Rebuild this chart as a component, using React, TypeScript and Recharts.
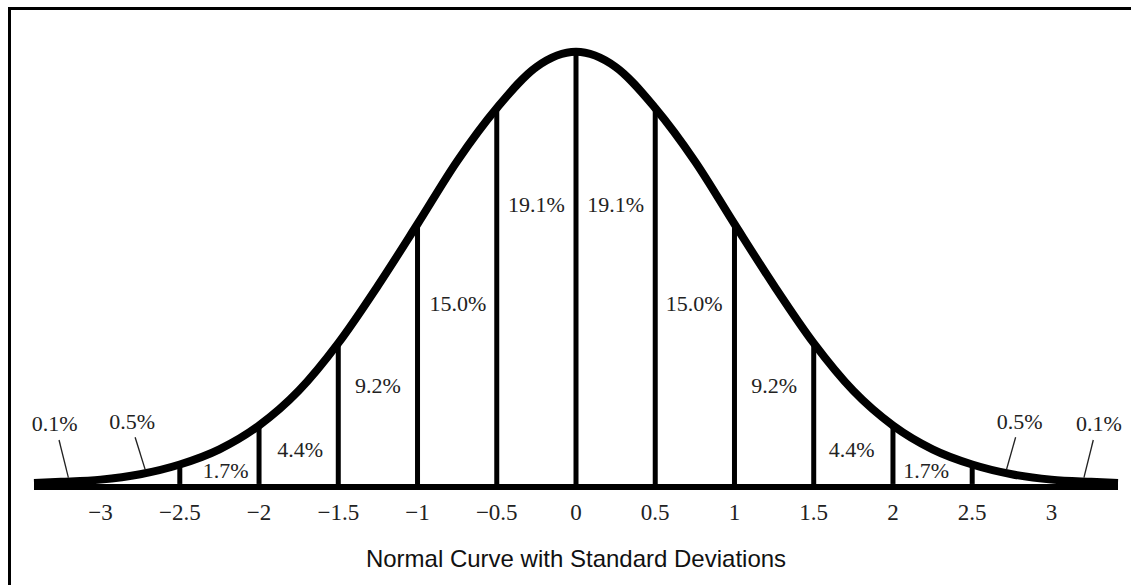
import { ComposedChart, Line, XAxis, YAxis, ReferenceLine, ReferenceDot } from 'recharts'

// curve heights (density units)
const curveX = [-3.42, -3.25, -3, -2.75, -2.5, -2.25, -2, -1.75, -1.5, -1.25, -1, -0.75, -0.5, -0.25, 0,
  0.25, 0.5, 0.75, 1, 1.25, 1.5, 1.75, 2, 2.25, 2.5, 2.75, 3, 3.25, 3.42]
const curveY = [0.001, 0.002, 0.004, 0.009, 0.018, 0.032, 0.054, 0.086, 0.13, 0.183, 0.24, 0.298, 0.347, 0.385, 0.399,
  0.385, 0.347, 0.298, 0.24, 0.183, 0.13, 0.086, 0.054, 0.032, 0.018, 0.009, 0.004, 0.002, 0.001]

const tickValues = [-3, -2.5, -2, -1.5, -1, -0.5, 0, 0.5, 1, 1.5, 2, 2.5, 3]
const dividerX = [-2.5, -2, -1.5, -1, -0.5, 0, 0.5, 1, 1.5, 2, 2.5]

const bandLabels = ['0.1%', '0.5%', '1.7%', '4.4%', '9.2%', '15.0%', '19.1%', '19.1%', '15.0%', '9.2%', '4.4%', '1.7%', '0.5%', '0.1%']
const bandLabelX = [-3.29, -2.8, -2.21, -1.74, -1.25, -0.745, -0.25, 0.25, 0.745, 1.25, 1.74, 2.21, 2.8, 3.3]
const bandLabelY = [0.056, 0.058, 0.013, 0.032, 0.091, 0.167, 0.258, 0.258, 0.167, 0.091, 0.032, 0.013, 0.058, 0.056]

// leader lines for the two tiny tail bands: [x top, y top, x bottom, y bottom]
const leaders = [
  [-3.262, 0.0406, -3.203, 0.0058],
  [-2.782, 0.0431, -2.719, 0.0136],
  [2.774, 0.0431, 2.717, 0.0136],
  [3.264, 0.0406, 3.205, 0.0058],
]

const title = 'Normal Curve with Standard Deviations'

const data = curveX.map((x, i) => ({ x, y: curveY[i] }))
const heightAt = (x: number) => curveY[curveX.indexOf(x)]

const SERIF = '"Liberation Serif", "Times New Roman", serif'

const Tick = (props: any) => {
  const { x, y, payload } = props
  const v = payload.value as number
  const text = v < 0 ? `\u2212${Math.abs(v)}` : `${v}`
  return (
    <text x={x} y={y} dy={25} textAnchor="middle" fontFamily={SERIF} fontSize={23} fill="#222">
      {text}
    </text>
  )
}

export default function App() {
  return (
    <div style={{ position: 'absolute', left: 0, top: 0, width: 1131, height: 585, background: '#fff', overflow: 'hidden' }}>
      <div
        style={{
          position: 'absolute', left: 8, top: 7, width: 1123, height: 578,
          borderTop: '3px solid #000', borderLeft: '3px solid #000', boxSizing: 'border-box',
        }}
      />
      <div style={{ position: 'absolute', left: 0, top: 0 }}>
        <ComposedChart width={1131} height={585} data={data} margin={{ top: 29, right: 13, bottom: 68, left: 34 }}>
          <XAxis
            dataKey="x"
            type="number"
            domain={[-3.42, 3.42]}
            ticks={tickValues}
            tickLine={false}
            axisLine={{ stroke: '#000', strokeWidth: 6 }}
            tick={<Tick />}
            height={30}
            interval={0}
          />
          <YAxis hide type="number" domain={[-0.0028, 0.42]} />
          {dividerX.map((x) => (
            <ReferenceLine
              key={`d${x}`}
              segment={[{ x, y: 0 }, { x, y: heightAt(x) }]}
              stroke="#000"
              strokeWidth={5}
            />
          ))}
          {leaders.map((l, i) => (
            <ReferenceLine
              key={`l${i}`}
              segment={[{ x: l[0], y: l[1] }, { x: l[2], y: l[3] }]}
              stroke="#222"
              strokeWidth={1.3}
            />
          ))}
          <Line type="monotone" dataKey="y" stroke="#000" strokeWidth={8} dot={false} isAnimationActive={false} />
          {bandLabels.map((t, i) => (
            <ReferenceDot
              key={`t${i}`}
              x={bandLabelX[i]}
              y={bandLabelY[i]}
              r={0}
              fill="none"
              stroke="none"
              label={{ value: t, position: 'center', fill: '#222', fontSize: 22, fontFamily: SERIF }}
            />
          ))}
        </ComposedChart>
      </div>
      <div
        style={{
          position: 'absolute', left: 34, width: 1084, top: 547, textAlign: 'center',
          fontFamily: '"Liberation Sans", Arial, sans-serif', fontSize: 24, lineHeight: '24px', color: '#111',
        }}
      >
        {title}
      </div>
    </div>
  )
}
